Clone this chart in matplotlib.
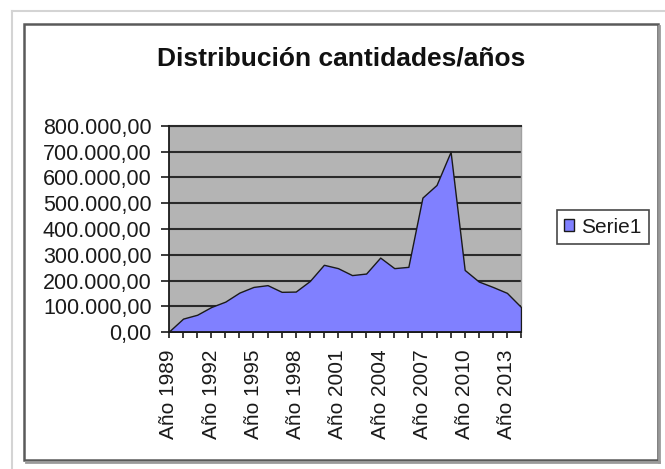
import matplotlib
matplotlib.use("Agg")
import matplotlib.pyplot as plt
from matplotlib.patches import Rectangle
from matplotlib.lines import Line2D

years = list(range(1989, 2015))
values = [2000, 52000, 67000, 97000, 118000, 153000, 175000, 182000, 156000, 157000,
          198000, 261000, 248000, 221000, 227000, 289000, 248000, 253000, 522000, 571000,
          700000, 241000, 196000, 175000, 152000, 97000]
x_labels = [f"Año {y}" if (y - 1989) % 3 == 0 else "" for y in years]
y_ticks = [0, 100000, 200000, 300000, 400000, 500000, 600000, 700000, 800000]
y_labels = ["0,00", "100.000,00", "200.000,00", "300.000,00", "400.000,00",
            "500.000,00", "600.000,00", "700.000,00", "800.000,00"]
title = "Distribución cantidades/años"
series_name = "Serie1"

plt.rcParams['font.family'] = ['Liberation Sans', 'DejaVu Sans']

W, H = 665, 469
fig = plt.figure(figsize=(W / 100, H / 100), dpi=100)
fig.patch.set_facecolor("white")

# outer light border (top and left)
fig.add_artist(Line2D([12 / W, 1], [1 - 11 / H, 1 - 11 / H], color="#d4d4d4", lw=1.5,
                      transform=fig.transFigure))
fig.add_artist(Line2D([12 / W, 12 / W], [0, 1 - 11 / H], color="#d4d4d4", lw=1.5,
                      transform=fig.transFigure))
# chart frame with slight shadow on right/bottom
fig.add_artist(Line2D([658.5 / W, 658.5 / W], [1 - 461.5 / H, 1 - 26 / H], color="#9a9a9a",
                      lw=2.0, transform=fig.transFigure))
fig.add_artist(Line2D([26 / W, 659 / W], [1 - 461.5 / H, 1 - 461.5 / H], color="#9a9a9a",
                      lw=2.0, transform=fig.transFigure))
fig.add_artist(Rectangle((24 / W, 1 - 460 / H), 634 / W, 436 / H, fill=False,
                         edgecolor="#5a5a5a", lw=1.8, transform=fig.transFigure))

ax = fig.add_axes([169 / W, 1 - 332 / H, 352 / W, 206 / H])
ax.set_facecolor("#b4b4b4")
x = list(range(len(years)))
ax.fill_between(x, 0, values, facecolor="#8080ff", edgecolor="#1a1a1a", lw=1.0,
                zorder=3, label=series_name)
ax.set_xlim(0, len(years) - 1)
ax.set_ylim(0, 800000)
ax.set_yticks(y_ticks)
ax.set_yticklabels(y_labels)
ax.set_xticks(x)
ax.set_xticklabels(x_labels, rotation=90)
ax.yaxis.grid(True, color="#2a2a2a", lw=1.5, zorder=1)
ax.set_axisbelow(True)
ax.tick_params(axis="y", direction="out", length=6, width=1.2, pad=6.5,
               labelsize=15.5, colors="#1a1a1a")
ax.tick_params(axis="x", direction="out", length=4.5, width=1.2, pad=8,
               labelsize=15, colors="#1a1a1a")
for s in ["left", "bottom"]:
    ax.spines[s].set_color("#1a1a1a")
    ax.spines[s].set_linewidth(1.3)
    ax.spines[s].set_zorder(4)
ax.spines["top"].set_color("#2a2a2a")
ax.spines["top"].set_linewidth(1.5)
ax.spines["right"].set_color("#a0a0a0")
ax.spines["right"].set_linewidth(1.0)

fig.text(341 / W, 1 - 58 / H, title, ha="center", va="center", fontsize=19,
         fontweight="bold", color="#111111")

handles, labels = ax.get_legend_handles_labels()
leg = fig.legend(handles, labels, loc="center left",
                 bbox_to_anchor=(557 / W, 1 - 227 / H), bbox_transform=fig.transFigure,
                 fontsize=15, frameon=True, fancybox=False, shadow=False,
                 handlelength=0.45, handleheight=0.45, handletextpad=0.35,
                 borderpad=0.35, borderaxespad=0)
leg.get_frame().set_edgecolor("#1a1a1a")
leg.get_frame().set_linewidth(1.2)
for t in leg.get_texts():
    t.set_color("#1a1a1a")

fig.savefig("out.png", dpi=100)
